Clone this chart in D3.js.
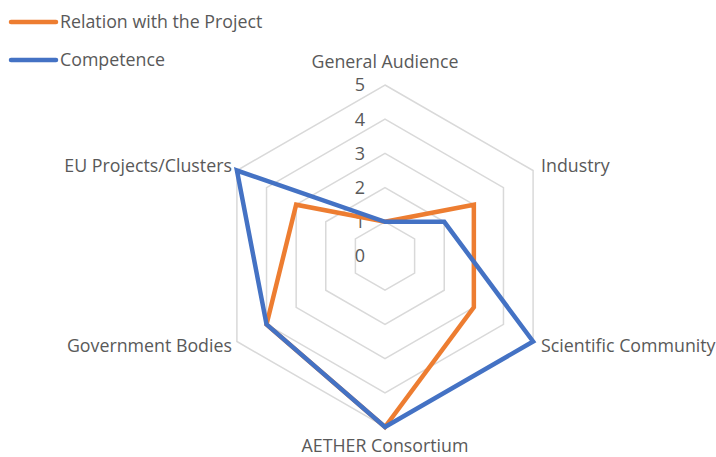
<!DOCTYPE html>
<html>
<head>
<meta charset="utf-8">
<script src="https://cdn.jsdelivr.net/npm/d3@7"></script>
<style>
  body { margin: 0; background: #fff; }
  text { font-family: "Open Sans", "Noto Sans", sans-serif; fill: #595959; }
</style>
</head>
<body>
<div id="chart"></div>
<script>
// data
var categories = ["General Audience", "Industry", "Scientific Community", "AETHER Consortium", "Government Bodies", "EU Projects/Clusters"];
var relationValues = [1, 3, 3, 5, 4, 3];
var competenceValues = [1, 2, 5, 5, 4, 5];
var seriesNames = ["Relation with the Project", "Competence"];
var seriesColors = ["#ED7D31", "#4472C4"];
var levels = [0, 1, 2, 3, 4, 5];

var svgWidth = 716;
var svgHeight = 457;
var cx = 385, cy = 256;
var maxR = 171;

var svg = d3.select("#chart")
  .append("svg")
  .attr("width", svgWidth)
  .attr("height", svgHeight);

var rScale = d3.scaleLinear()
  .domain([0, 5])
  .range([0, maxR]);

var angle = d3.scaleLinear()
  .domain([0, categories.length])
  .range([0, 2 * Math.PI]);

function px(i, v) { return cx + rScale(v) * Math.sin(angle(i)); }
function py(i, v) { return cy - rScale(v) * Math.cos(angle(i)); }

//gridlines (hexagons)
var grid = svg.append("g");
grid.selectAll("polygon")
  .data(levels.filter(d => d > 0))
  .enter()
  .append("polygon")
  .attr("points", lv => categories.map((c, i) => px(i, lv) + "," + py(i, lv)).join(" "))
  .attr("fill", "none")
  .attr("stroke", "#d9d9d9")
  .attr("stroke-width", 1.5);

// value labels along the top axis
svg.append("g").selectAll("text")
  .data(levels)
  .enter()
  .append("text")
  .attr("x", cx - 20)
  .attr("y", d => cy - rScale(d))
  .attr("dy", "0.35em")
  .attr("text-anchor", "end")
  .style("font-size", "18px")
  .text(d => d);

// series lines
var series = [relationValues, competenceValues];
var line = d3.line()
  .x((d, i) => px(i, d))
  .y((d, i) => py(i, d))
  .curve(d3.curveLinearClosed);

svg.append("g").selectAll("path")
  .data(series)
  .enter()
  .append("path")
  .attr("d", d => line(d))
  .attr("fill", "none")
  .attr("stroke", (d, i) => seriesColors[i])
  .attr("stroke-width", 4.5)
  .attr("stroke-linejoin", "miter");

// category labels
var labelPos = [
  { dx: 0, dy: -23, anchor: "middle" },
  { dx: 8, dy: -5, anchor: "start" },
  { dx: 8, dy: 4, anchor: "start" },
  { dx: 0, dy: 19, anchor: "middle" },
  { dx: -5, dy: 4, anchor: "end" },
  { dx: -5, dy: -5, anchor: "end" }
];

svg.append("g").selectAll("text")
  .data(categories)
  .enter()
  .append("text")
  .attr("x", (d, i) => px(i, 5) + labelPos[i].dx)
  .attr("y", (d, i) => py(i, 5) + labelPos[i].dy)
  .attr("dy", "0.35em")
  .attr("text-anchor", (d, i) => labelPos[i].anchor)
  .style("font-size", "17.8px")
  .text(d => d);

// legend
var legend = svg.append("g");
var legendItems = legend.selectAll("g")
  .data(seriesNames)
  .enter()
  .append("g")
  .attr("transform", (d, i) => `translate(0, ${22 + i * 38})`);

legendItems.append("line")
  .attr("x1", 11)
  .attr("x2", 56)
  .attr("y1", 0)
  .attr("y2", 0)
  .attr("stroke", (d, i) => seriesColors[i])
  .attr("stroke-width", 4.5)
  .attr("stroke-linecap", "round");

legendItems.append("text")
  .attr("x", 60)
  .attr("y", 0)
  .attr("dy", "0.35em")
  .style("font-size", "17.8px")
  .text(d => d);
</script>
</body>
</html>
